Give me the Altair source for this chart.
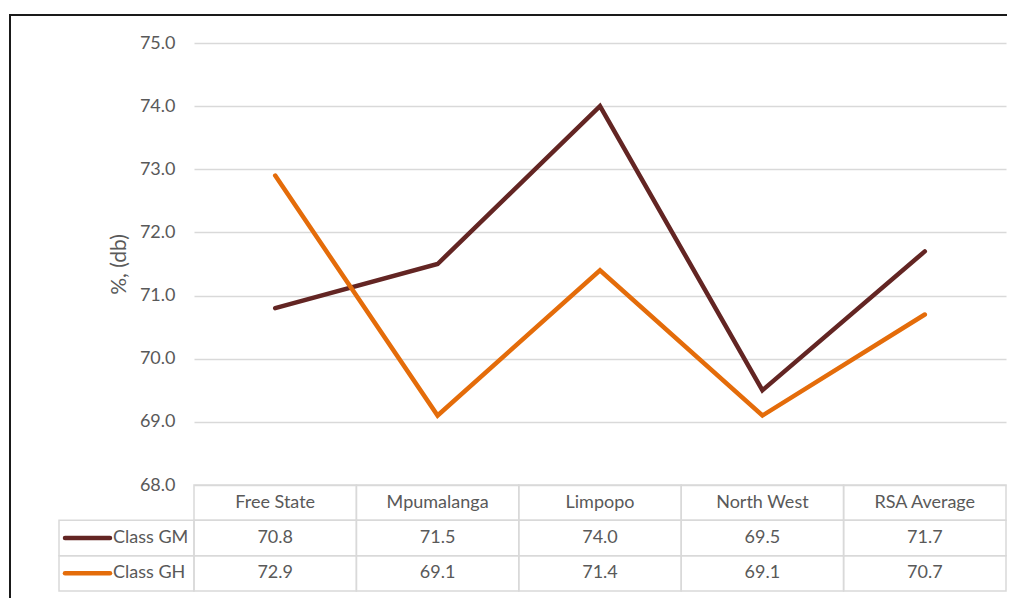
import altair as alt
import pandas as pd

categories = ["Free State", "Mpumalanga", "Limpopo", "North West", "RSA Average"]
series = ["Class GM", "Class GH"]
gm_values = [70.8, 71.5, 74.0, 69.5, 71.7]
gh_values = [72.9, 69.1, 71.4, 69.1, 70.7]
y_ticks = [68, 69, 70, 71, 72, 73, 74, 75]
colors = ["#632523", "#E46C0A"]
header_key = "header"

FONT = "Lato"
TXT = "#595959"
GRID = "#D9D9D9"

rows = []
for s, vals in zip(series, [gm_values, gh_values]):
    for c, v in zip(categories, vals):
        rows.append({"region": c, "series": s, "value": v})
df = pd.DataFrame(rows)

W, H = 812, 442
LEG_W, TAB_H = 135, 106

color_scale = alt.Scale(domain=series, range=colors)
row_domain = [header_key] + series

# --- line chart ---
base = alt.Chart(df)
lines = base.mark_line(strokeWidth=4.5, strokeJoin="miter", strokeCap="round").encode(
    x=alt.X("region:N", sort=categories,
            scale=alt.Scale(type="point", domain=categories, padding=0.5),
            axis=None),
    y=alt.Y("value:Q",
            scale=alt.Scale(domain=[68, 75], nice=False, zero=False),
            axis=alt.Axis(values=y_ticks, format=".1f", title="%, (db)",
                          grid=True, gridColor=GRID, gridWidth=1.5,
                          domain=False, ticks=False, tickSize=0,
                          labelPadding=19, labelFont=FONT, labelFontSize=18,
                          labelColor=TXT, titleFont=FONT, titleFontSize=21,
                          titleFontWeight="normal", titleColor=TXT,
                          titlePadding=10)),
    color=alt.Color("series:N", scale=color_scale, legend=None),
    detail="series:N",
)

border_top = alt.Chart(pd.DataFrame({"k": [0]})).mark_rule(
    color="#1a1a1a", strokeWidth=2).encode(
    x=alt.value(-185), x2=alt.value(813), y=alt.value(-28))
border_left = alt.Chart(pd.DataFrame({"k": [0]})).mark_rule(
    color="#1a1a1a", strokeWidth=2).encode(
    x=alt.value(-184), y=alt.value(-29), y2=alt.value(555))

line_chart = alt.layer(lines, border_top, border_left).properties(width=W, height=H)

# --- spacer ---
spacer = alt.Chart(pd.DataFrame({"k": [0]})).mark_text(text=" ").encode(
    x=alt.value(0), y=alt.value(0)).properties(width=LEG_W, height=H)

# --- table ---
header_df = pd.DataFrame({"region": categories, "row": header_key,
                          "label": categories})
val_df = df.assign(row=df["series"], label=df["value"].map(lambda v: f"{v:.1f}"))
table_df = pd.concat([header_df, val_df[["region", "row", "label"]]], ignore_index=True)

x_band = alt.X("region:N", sort=categories,
               scale=alt.Scale(type="band", domain=categories,
                               paddingInner=0, paddingOuter=0), axis=None)
y_band = alt.Y("row:N", scale=alt.Scale(type="band", domain=row_domain,
                                        paddingInner=0, paddingOuter=0),
               axis=None)

tab_base = alt.Chart(table_df)
cells = tab_base.mark_rect(fill="white", fillOpacity=0, stroke=GRID,
                           strokeWidth=1.5).encode(x=x_band, y=y_band)
texts = tab_base.mark_text(font=FONT, fontSize=18, color=TXT).encode(
    x=x_band, y=y_band, text="label:N")
table = alt.layer(cells, texts).properties(width=W, height=TAB_H)

# --- legend column ---
leg_df = pd.DataFrame({"row": series, "series": series})
leg_base = alt.Chart(leg_df)
leg_cells = leg_base.mark_rect(fill="white", fillOpacity=0, stroke=GRID,
                               strokeWidth=1.5).encode(
    y=y_band, x=alt.value(0), x2=alt.value(LEG_W))
leg_lines = leg_base.mark_rule(strokeWidth=4.5, strokeCap="round").encode(
    y=y_band, x=alt.value(6), x2=alt.value(51),
    color=alt.Color("series:N", scale=color_scale, legend=None))
leg_text = leg_base.mark_text(font=FONT, fontSize=18, color=TXT,
                              align="left").encode(
    y=y_band, x=alt.value(54), text="series:N")
legend_col = alt.layer(leg_cells, leg_lines, leg_text).properties(
    width=LEG_W, height=TAB_H)

chart = alt.concat(spacer, line_chart, legend_col, table, columns=2,
                   spacing=0, bounds="flush").properties(
    padding={"left": 0, "top": 5, "right": 0, "bottom": 0},
    background="white",
).configure_view(stroke="transparent", strokeWidth=0)

chart.save("out.html", embed_options={"renderer": "svg", "actions": False})
